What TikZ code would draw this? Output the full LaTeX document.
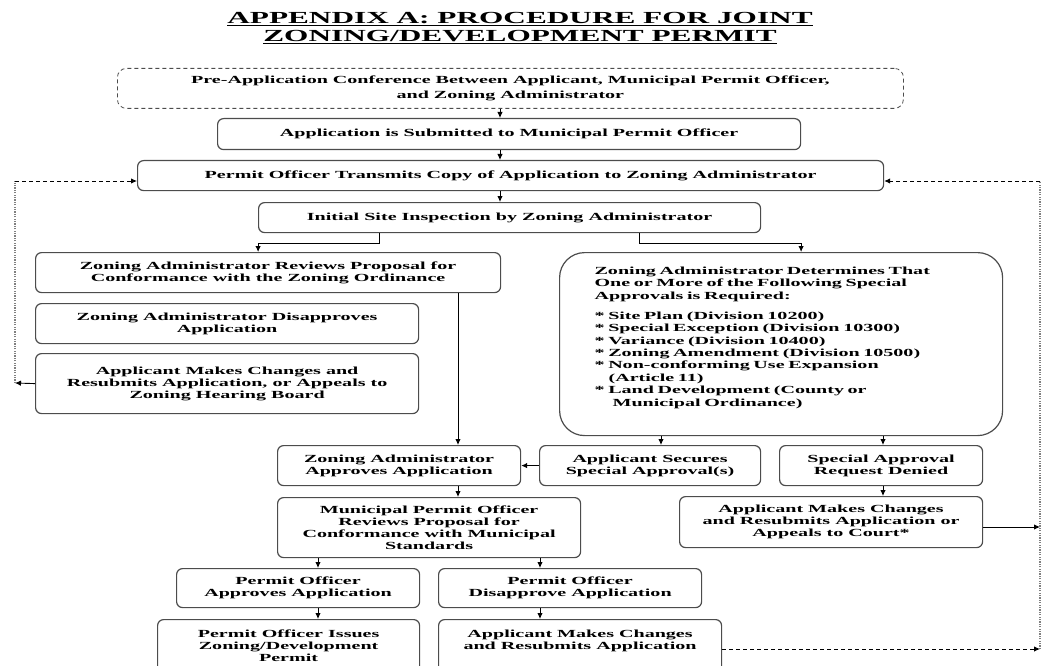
\documentclass[tikz,border=0pt]{standalone}
\usepackage{fontspec}
\setmainfont{Liberation Serif}[FakeStretch=1.85]
\usetikzlibrary{arrows.meta}
\definecolor{boxline}{gray}{.3}
\definecolor{loopgray}{gray}{.5}
\newcommand{\bodysize}{\fontsize{10.85pt}{12pt}\selectfont}
\newcommand{\listsize}{\fontsize{10.85pt}{12.4pt}\selectfont}
\newcommand{\titlesize}{\fontsize{16.9pt}{18pt}\selectfont}
\tikzset{
    stage/.style={anchor=north west, draw=boxline, line width=1.2pt, rectangle, rounded corners=6pt,
        align=center, inner sep=0pt, font=\bodysize\bfseries},
    preconf/.style={stage, draw=black!70, line width=.8pt, dash pattern=on 4pt off 3pt,
        rounded corners=9pt, font=\fontsize{10.85pt}{14.5pt}\selectfont\bfseries},
    special/.style={stage, rounded corners=25pt, align=left, text width=373pt, font=\listsize\bfseries},
    arr/.style={-{Latex[length=6pt, width=5.5pt]}, line width=.9pt},
    backline/.style={arr, dash pattern=on 4pt off 3pt},
    loopline/.style={loopgray, line width=2.2pt, dash pattern=on 1.3pt off 1.1pt}
}

\begin{document}
\begin{tikzpicture}[x=1pt, y=-1pt]
            \useasboundingbox (0,0) rectangle (1047,666);

            \node[font=\titlesize\bfseries, align=center] (title) at (520,28)
                {\underline{APPENDIX A: PROCEDURE FOR JOINT}\\\underline{ZONING/DEVELOPMENT PERMIT}};

            \node[preconf, minimum width=786pt, minimum height=40pt] (preapp) at (117,68)
                {Pre-Application Conference Between Applicant, Municipal Permit Officer,\\and Zoning Administrator};
            \node[stage, minimum width=583pt, minimum height=31pt] (submit) at (217,118)
                {Application is Submitted to Municipal Permit Officer};
            \node[stage, minimum width=746pt, minimum height=30pt] (transmit) at (137,160)
                {Permit Officer Transmits Copy of Application to Zoning Administrator};
            \node[stage, minimum width=502pt, minimum height=30pt] (inspect) at (258,202)
                {Initial Site Inspection by Zoning Administrator};

            \node[stage, minimum width=465pt, minimum height=40pt] (zareview) at (35,252)
                {Zoning Administrator Reviews Proposal for\\Conformance with the Zoning Ordinance};
            \node[stage, minimum width=383pt, minimum height=40pt] (zadeny) at (35,303)
                {Zoning Administrator Disapproves\\Application};
            \node[stage, minimum width=383pt, minimum height=60pt] (resubmitL) at (35,353)
                {Applicant Makes Changes and\\Resubmits Application, or Appeals to\\Zoning Hearing Board};
            \node[special, minimum width=443pt, minimum height=183pt] (zaspecial) at (559,252)
                {Zoning Administrator Determines That\\One or More of the Following Special\\Approvals is Required:\\[7.6pt]
                 {*} Site Plan (Division 10200)\\{*} Special Exception (Division 10300)\\{*} Variance (Division 10400)\\
                 {*} Zoning Amendment (Division 10500)\\{*} Non-conforming Use Expansion\\\hspace*{14pt}(Article 11)\\
                 {*} Land Development (County or\\\hspace*{18pt}Municipal Ordinance)\\[2.6pt]\mbox{}};

            \node[stage, minimum width=243pt, minimum height=40pt] (zaapprove) at (277,445)
                {Zoning Administrator\\Approves Application};
            \node[stage, minimum width=221pt, minimum height=40pt] (secure) at (539,445)
                {Applicant Secures\\Special Approval(s)};
            \node[stage, minimum width=203pt, minimum height=40pt] (denied) at (779,445)
                {Special Approval\\Request Denied};
            \node[stage, minimum width=303pt, minimum height=51pt] (court) at (679,496)
                {Applicant Makes Changes\\and Resubmits Application or\\Appeals to Court*};
            \node[stage, minimum width=303pt, minimum height=60pt] (muni) at (277,497)
                {Municipal Permit Officer\\Reviews Proposal for\\Conformance with Municipal\\Standards};
            \node[stage, minimum width=243pt, minimum height=39pt] (poapprove) at (176,568)
                {Permit Officer\\Approves Application};
            \node[stage, minimum width=263pt, minimum height=39pt] (podeny) at (438,568)
                {Permit Officer\\Disapprove Application};
            \node[stage, minimum width=262pt, minimum height=53pt] (issue) at (157,619)
                {Permit Officer Issues\\Zoning/Development\\Permit};
            \node[stage, minimum width=283pt, minimum height=53pt, text depth=13pt] (resubmitB) at (438,619)
                {Applicant Makes Changes\\and Resubmits Application};

            \coordinate (spine) at (500,0);
            \coordinate (zaline) at (458,0);
            \coordinate (secline) at (661,0);
            \coordinate (denline) at (883,0);
            \coordinate (poline) at (318,0);
            \coordinate (pdline) at (540,0);
            \coordinate (ltop) at (15,181);
            \coordinate (lret) at (15,383);
            \coordinate (rtop) at (1040,181);
            \coordinate (rret) at (1040,649);
            \coordinate (rcourt) at (1040,527);

            \draw[arr] (preapp.south -| spine) -- (submit.north -| spine);
            \draw[arr] (submit.south -| spine) -- (transmit.north -| spine);
            \draw[arr] (transmit.south -| spine) -- (inspect.north -| spine);
            \draw[arr] ([xshift=-130pt]inspect.south) -- ++(0,10) -| ([xshift=-10pt]zareview.north);
            \draw[arr] ([xshift=130pt]inspect.south) -- ++(0,10) -| ([xshift=20pt]zaspecial.north);

            \draw[arr] (zareview.south -| zaline) -- (zaapprove.north -| zaline);
            \draw[arr] (zaapprove.south -| zaline) -- (muni.north -| zaline);
            \draw[arr] (zaspecial.south -| secline) -- (secure.north -| secline);
            \draw[arr] (zaspecial.south -| denline) -- (denied.north -| denline);
            \draw[arr] (denied.south -| denline) -- (court.north -| denline);
            \draw[arr] (secure.west) -- (zaapprove.east);
            \draw[arr] (muni.south -| poline) -- (poapprove.north -| poline);
            \draw[arr] (poapprove.south -| poline) -- (issue.north -| poline);
            \draw[arr] (muni.south -| pdline) -- (podeny.north -| pdline);
            \draw[arr] (podeny.south -| pdline) -- (resubmitB.north -| pdline);

            \draw[arr] (resubmitL.west) -- (lret);
            \draw[loopline] (lret) -- (ltop);
            \draw[backline] (ltop) -- (ltop -| transmit.west);
            \draw[arr] (court.east |- rcourt) -- (rcourt);
            \draw[backline] (resubmitB.east |- rret) -- (rret);
            \draw[loopline] (rret) -- (rtop);
            \draw[backline] (rtop) -- (rtop -| transmit.east);

        \end{tikzpicture}
\end{document}
